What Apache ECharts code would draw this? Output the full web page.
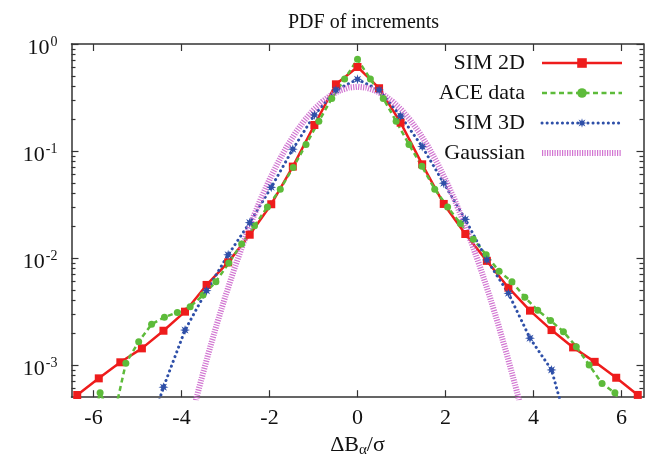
<!DOCTYPE html>
<html><head><meta charset="utf-8">
<script src="https://cdn.jsdelivr.net/npm/echarts@6/dist/echarts.min.js"></script>
<style>html,body{margin:0;padding:0;background:#fff}#c{width:653px;height:458px}</style>
</head><body><div id="c"></div>
<script>
const titleText = 'PDF of increments';
const seriesNames = ['SIM 2D', 'ACE data', 'SIM 3D', 'Gaussian'];
const xTicks = [-6, -4, -2, 0, 2, 4, 6];
const yMajor = [1e-3, 1e-2, 1e-1, 1];
const yMinor = [6e-4, 7e-4, 8e-4, 9e-4,
  2e-3, 3e-3, 4e-3, 5e-3, 6e-3, 7e-3, 8e-3, 9e-3,
  2e-2, 3e-2, 4e-2, 5e-2, 6e-2, 7e-2, 8e-2, 9e-2,
  0.2, 0.3, 0.4, 0.5, 0.6, 0.7, 0.8, 0.9];

const sim2dX = [-6.37, -5.88, -5.39, -4.90, -4.41, -3.92, -3.43, -2.94, -2.45, -1.96, -1.47, -0.98, -0.49, 0,
  0.49, 0.98, 1.47, 1.96, 2.45, 2.94, 3.43, 3.92, 4.41, 4.90, 5.39, 5.88, 6.37];
const sim2dY = [5.24e-4, 7.5e-4, 1.06e-3, 1.43e-3, 2.09e-3, 3.15e-3, 5.6e-3, 9.1e-3, 1.65e-2, 3.18e-2, 7.15e-2, 0.175, 0.42, 0.61,
  0.386, 0.184, 0.0751, 0.032, 0.01675, 9.4e-3, 5.28e-3, 3.22e-3, 2.12e-3, 1.46e-3, 1.07e-3, 7.6e-4, 5.25e-4];

const aceX = [-6.143, -5.85, -5.558, -5.265, -4.973, -4.68, -4.388, -4.095, -3.803, -3.51, -3.218, -2.925, -2.633, -2.34,
  -2.048, -1.755, -1.463, -1.17, -0.878, -0.585, -0.293, 0,
  0.293, 0.585, 0.878, 1.17, 1.463, 1.755, 2.048, 2.34, 2.633, 2.925, 3.218, 3.51, 3.803, 4.095,
  4.388, 4.68, 4.973, 5.265, 5.558, 5.85, 6.143];
const aceY = [2e-4, 5.5e-4, 3e-4, 1.04e-3, 1.65e-3, 2.4e-3, 2.8e-3, 3.1e-3, 3.5e-3, 4.5e-3, 6.0e-3, 9.0e-3, 1.35e-2, 2.0e-2,
  3.0e-2, 4.4e-2, 7.0e-2, 0.115, 0.19, 0.31, 0.47, 0.72,
  0.47, 0.31, 0.19, 0.115, 0.072, 0.044, 0.030, 0.021, 0.015, 0.0107, 0.0075, 0.0060, 0.0043, 0.00325,
  0.0026, 0.00205, 0.00148, 0.00100, 0.00067, 0.00055, 0.00035];

const sim3dX = [-4.90, -4.41, -3.92, -3.43, -2.94, -2.45, -1.96, -1.47, -0.98, -0.49, 0,
  0.49, 0.98, 1.47, 1.96, 2.45, 2.94, 3.43, 3.92, 4.41, 4.90];
const sim3dY = [1.5e-4, 6.2e-4, 2.12e-3, 4.95e-3, 1.07e-2, 2.14e-2, 4.58e-2, 0.104, 0.217, 0.372, 0.468,
  0.372, 0.212, 0.11, 0.05, 0.023, 9.6e-3, 4.68e-3, 1.78e-3, 9e-4, 1.7e-4];

const gaussX = [-3.8, -3.6, -3.4, -3.2, -3.0, -2.8, -2.6, -2.4, -2.2, -2.0, -1.8, -1.6, -1.4, -1.2, -1.0, -0.8, -0.6, -0.4, -0.2, 0,
  0.2, 0.4, 0.6, 0.8, 1.0, 1.2, 1.4, 1.6, 1.8, 2.0, 2.2, 2.4, 2.6, 2.8, 3.0, 3.2, 3.4, 3.6, 3.8];
const gaussY = [2.92e-4, 6.12e-4, 1.232e-3, 2.384e-3, 4.432e-3, 7.915e-3, 1.358e-2, 2.239e-2, 3.547e-2, 5.399e-2,
  7.895e-2, 0.1109, 0.1497, 0.1942, 0.2420, 0.2897, 0.3332, 0.3683, 0.3910, 0.3989,
  0.3910, 0.3683, 0.3332, 0.2897, 0.2420, 0.1942, 0.1497, 0.1109, 0.07895, 0.05399,
  0.03547, 0.02239, 0.01358, 0.007915, 0.004432, 0.002384, 0.001232, 6.12e-4, 2.92e-4];

const zip = (xs, ys) => xs.map((x, i) => [x, ys[i]]);
const FONT = "'Liberation Serif', 'DejaVu Serif', serif";
const AX = '#333';
const starPath = 'path://M20,10L14.16,11.72L17.07,17.07L11.72,14.16L10,20L8.28,14.16L2.93,17.07L5.84,11.72L0,10L5.84,8.28L2.93,2.93L8.28,5.84L10,0L11.72,5.84L17.07,2.93L14.16,8.28Z';

const chart = echarts.init(document.getElementById('c'), null, {renderer: 'canvas'});
const yMin = 5e-4, yMax = 1;
const gridBox = {left: 71.5, right: 9.5, top: 44, bottom: 60.8, containLabel: false, outerBoundsMode: 'none'};

function yAxisDef(grid, pos, ticks, len, showLine, labels) {
  return {
    gridIndex: grid, type: 'log', logBase: 10, min: yMin, max: yMax, position: pos,
    axisLine: {show: showLine, onZero: false, lineStyle: {color: AX, width: 1.5}},
    axisTick: {show: true, inside: true, length: len, customValues: ticks, lineStyle: {color: AX, width: 1.2}},
    axisLabel: labels ? {
      show: true, customValues: yMajor, margin: 14, padding: [8, 0, 0, 0],
      formatter: v => '{b|10}{s|' + Math.round(Math.log10(v)) + '}',
      rich: {
        b: {fontFamily: FONT, fontSize: 22, color: '#111', lineHeight: 26},
        s: {fontFamily: FONT, fontSize: 14, color: '#111', verticalAlign: 'top', lineHeight: 12, padding: [0, 0, 0, 1]}
      }
    } : {show: false},
    splitLine: {show: false}
  };
}
function xAxisDef(grid, pos, labels, visible) {
  return {
    gridIndex: grid, show: visible, type: 'value', min: -6.5, max: 6.5, position: pos,
    axisLine: {show: true, onZero: false, lineStyle: {color: AX, width: 1.5}},
    axisTick: {show: true, inside: true, length: 7, customValues: xTicks, lineStyle: {color: AX, width: 1.2}},
    axisLabel: labels ? {show: true, customValues: xTicks, margin: 10, fontFamily: FONT, fontSize: 22, color: '#111',
      formatter: v => String(v)} : {show: false},
    splitLine: {show: false},
    name: labels ? '{n|ΔB}{sub|α}{n|/σ}' : '',
    nameLocation: 'middle', nameGap: 34,
    nameTextStyle: {rich: {
      n: {fontFamily: FONT, fontSize: 22, color: '#111', lineHeight: 24},
      sub: {fontFamily: FONT, fontSize: 15, color: '#111', verticalAlign: 'bottom', lineHeight: 12}
    }}
  };
}

chart.setOption({
  animation: false,
  backgroundColor: '#fff',
  title: {text: titleText, left: 283, top: 8, textStyle: {fontFamily: FONT, fontSize: 20, fontWeight: 'normal', color: '#111'}},
  grid: [Object.assign({}, gridBox), Object.assign({}, gridBox), Object.assign({}, gridBox)],
  legend: {
    orient: 'vertical', right: 23, top: 47, align: 'right', itemWidth: 80, itemHeight: 12, itemGap: 8,
    textStyle: {fontFamily: FONT, fontSize: 22, color: '#111', lineHeight: 22, padding: [0, 12, 0, 0]},
    lineStyle: {width: 'inherit'},
    data: [seriesNames[0], seriesNames[1], seriesNames[2], {name: seriesNames[3], itemStyle: {opacity: 0}}]
  },
  xAxis: [xAxisDef(0, 'bottom', true, true), xAxisDef(0, 'top', false, true),
          xAxisDef(1, 'bottom', false, false), xAxisDef(2, 'bottom', false, false)],
  yAxis: [yAxisDef(0, 'left', yMajor, 7, true, true), yAxisDef(0, 'right', yMajor, 7, true, false),
          yAxisDef(1, 'left', yMinor, 4, false, false), yAxisDef(2, 'right', yMinor, 4, false, false)],
  series: [
    {name: seriesNames[0], type: 'line', data: zip(sim2dX, sim2dY), symbol: 'rect', symbolSize: 8,
      itemStyle: {color: '#ee1c1c'}, lineStyle: {color: '#ee1c1c', width: 2.5}},
    {name: seriesNames[1], type: 'line', data: zip(aceX, aceY), symbol: 'circle', symbolSize: 7,
      itemStyle: {color: '#5dbb3a'}, lineStyle: {color: '#5dbb3a', width: 2.5, type: [5, 3.5]}},
    {name: seriesNames[2], type: 'line', data: zip(sim3dX, sim3dY), symbol: starPath, symbolSize: 10,
      itemStyle: {color: '#2e4fa8'}, lineStyle: {color: '#2e4fa8', width: 3, type: [0.1, 5], cap: 'round'}},
    {name: seriesNames[3], type: 'line', data: zip(gaussX, gaussY), symbol: 'circle', showSymbol: false,
      itemStyle: {color: '#cc66cc'}, lineStyle: {color: '#cc66cc', width: 6, type: [1.2, 1.3], cap: 'butt', opacity: 0.9}}
  ]
});
</script></body></html>
